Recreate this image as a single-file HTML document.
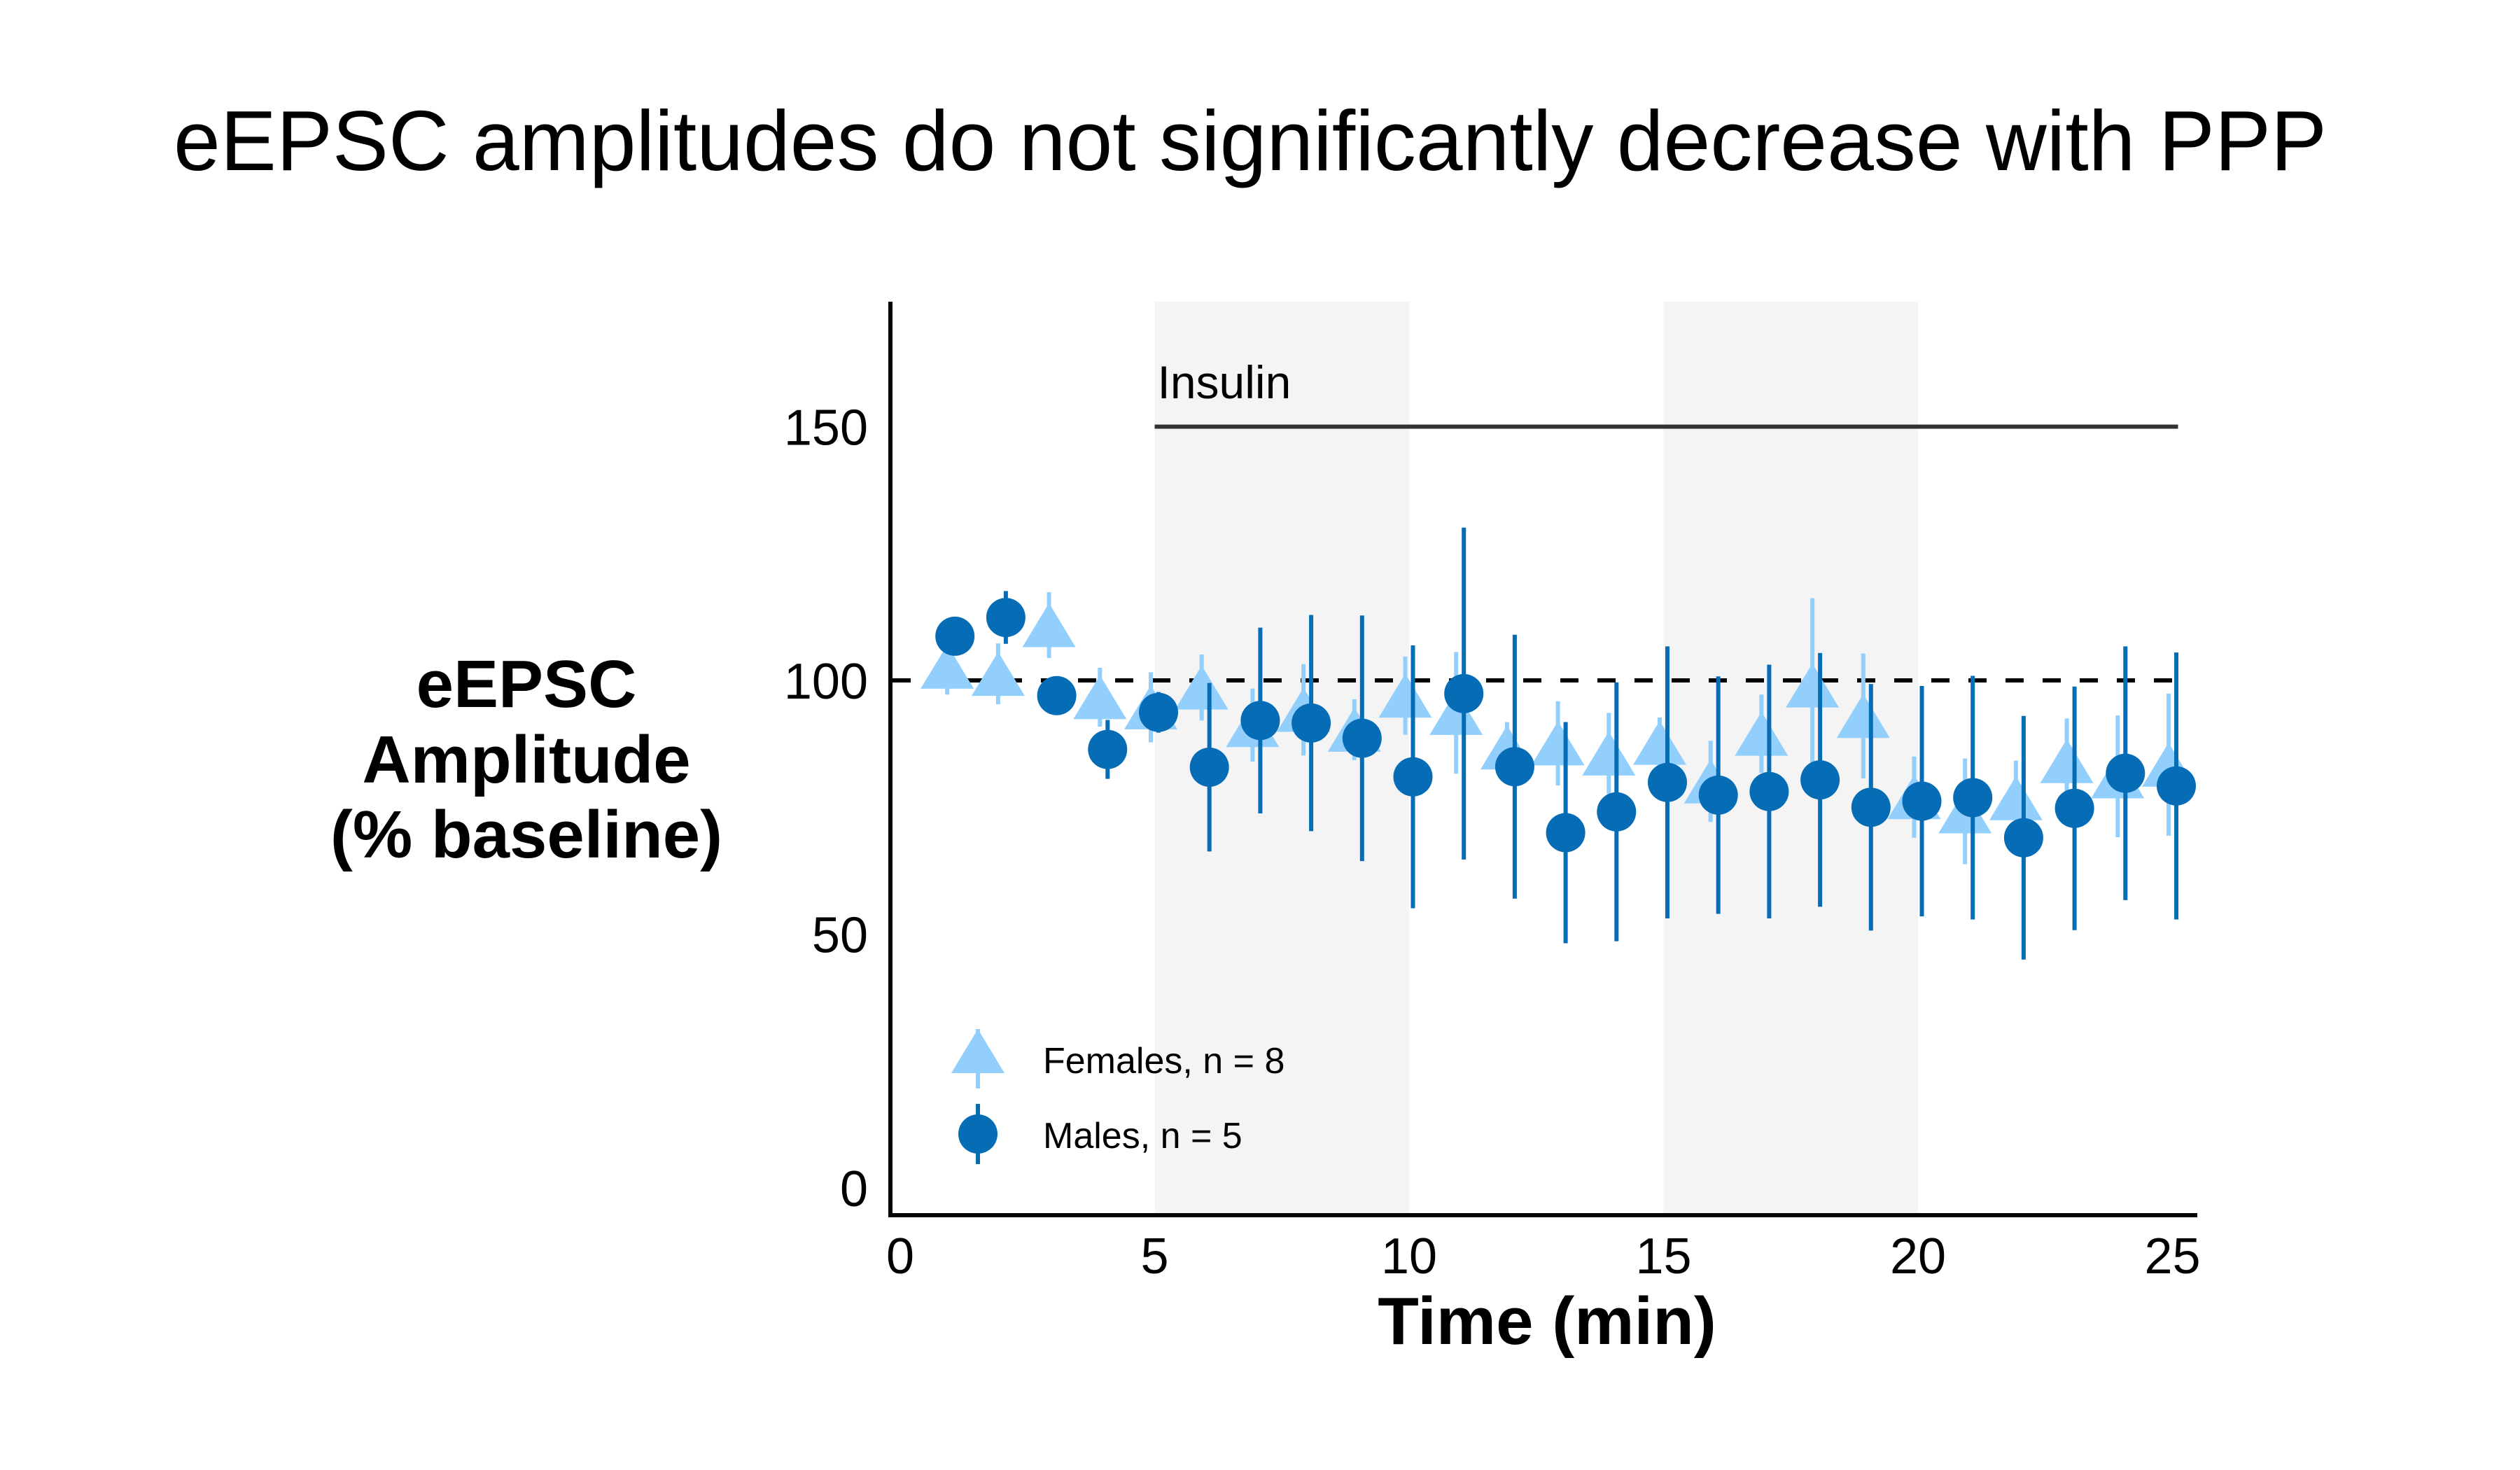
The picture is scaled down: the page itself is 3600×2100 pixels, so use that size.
<!DOCTYPE html>
<html><head><meta charset="utf-8"><style>html,body{margin:0;padding:0;background:#fff}svg{display:block}</style></head>
<body>
<svg id="chart" width="3600" height="2100" viewBox="0 0 3600 2100" xmlns="http://www.w3.org/2000/svg" font-family="'Liberation Sans', sans-serif">
<rect x="0" y="0" width="3600" height="2100" fill="#fff"/>
<g id="shade"></g>
<g id="refs"></g>
<g id="fem"></g>
<g id="mal"></g>
<g id="axes"></g>
<text x="1786" y="243" font-size="122" text-anchor="middle" textLength="3076" lengthAdjust="spacingAndGlyphs">eEPSC amplitudes do not significantly decrease with PPP</text>
<g font-weight="bold" font-size="96" text-anchor="middle">
<text x="752" y="1010">eEPSC</text>
<text x="752" y="1118">Amplitude</text>
<text x="752" y="1225">(% baseline)</text>
</g>
<text x="2210" y="1920" font-size="96" font-weight="bold" text-anchor="middle">Time (min)</text>
<g>
<g>
<line x1="1397" y1="1470" x2="1397" y2="1555" stroke="#93CFFD" stroke-width="6"/>
<polygon points="1397,1470 1359,1533 1435,1533" fill="#93CFFD"/>
<text x="1490" y="1533" font-size="52">Females, n = 8</text>
</g>
<g>
<line x1="1397" y1="1577" x2="1397" y2="1663" stroke="#056CB5" stroke-width="6"/>
<circle cx="1397" cy="1620" r="28" fill="#056CB5"/>
<text x="1490" y="1640" font-size="52">Males, n = 5</text>
</g>
</g>
</svg>
<script>
const times = [1,2,3,4,5,6,7,8,9,10,11,12,13,14,15,16,17,18,19,20,21,22,23,24,25];
const femMean = [102.7,101.3,110.9,96.7,94.7,98.6,91.2,94.2,90.3,97.0,93.6,86.8,87.6,85.6,87.7,80.1,89.5,99.0,93.0,77.0,74.2,76.8,84.1,81.1,83.4];
const femErr = [5.5,6,6.5,5.8,6.9,6.5,7.2,9,6,7.7,12,5,8.3,8,5,8,7.7,17.2,12.3,8,10.4,7.4,8.4,12,14];
const malMean = [108.7,112.4,97.0,86.4,93.7,82.9,92.1,91.6,88.6,81.0,97.4,83.0,70.0,74.1,79.9,77.4,78.1,80.4,75.0,76.2,76.9,69.0,74.8,81.7,79.2];
const malErr = [2,5.2,1,5.8,4,16.6,18.3,21.3,24.2,25.9,32.7,26,21.8,25.5,26.8,23.4,25,25,24.3,22.7,24,24,24,25,26.3];
const xTicks = [0,5,10,15,20,25];
const yTicks = [0,50,100,150];
const shadeRanges = [[5,10],[15,20]];
const insulinRange = [5,25];
const insulinLevel = 150;
const baselineLevel = 100;

const NS = 'http://www.w3.org/2000/svg';
const X = v => 1286 + 72.7 * v;
const Y = v => 1697 - 7.25 * v;
function mk(tag, attrs, parent) {
  const el = document.createElementNS(NS, tag);
  for (const k in attrs) el.setAttribute(k, attrs[k]);
  parent.appendChild(el);
  return el;
}
const shade = document.getElementById('shade');
shadeRanges.forEach((r, i) => {
  const el = mk('rect', {x: X(r[0]), y: 431, width: X(r[1]) - X(r[0]), height: 1305, fill: '#F4F4F4'}, shade);
  
  
});
const refs = document.getElementById('refs');
const bl = mk('line', {x1: 1273, x2: X(25) + 8, y1: Y(baselineLevel), y2: Y(baselineLevel), stroke: '#000', 'stroke-width': 6, 'stroke-dasharray': '26 27', 'stroke-dashoffset': '-2'}, refs);


const il = mk('line', {x1: X(insulinRange[0]), x2: X(insulinRange[1]) + 8, y1: Y(insulinLevel), y2: Y(insulinLevel), stroke: '#333', 'stroke-width': 6}, refs);


const it = mk('text', {x: X(insulinRange[0]) + 4, y: 569, 'font-size': 66}, refs);
it.textContent = 'Insulin';



const fem = document.getElementById('fem');
times.forEach((t, i) => {
  const cx = X(t) - 5.5, cy = Y(femMean[i]);
  const g = mk('g', {}, fem);
  
  
  mk('line', {x1: cx, x2: cx, y1: Y(femMean[i] + femErr[i]), y2: Y(femMean[i] - femErr[i]), stroke: '#93CFFD', 'stroke-width': 6}, g);
  mk('polygon', {points: `${cx},${cy - 31.5} ${cx - 38},${cy + 31.5} ${cx + 38},${cy + 31.5}`, fill: '#93CFFD'}, g);
});
const mal = document.getElementById('mal');
times.forEach((t, i) => {
  const cx = X(t) + 5.5, cy = Y(malMean[i]);
  const g = mk('g', {}, mal);
  
  
  mk('line', {x1: cx, x2: cx, y1: Y(malMean[i] + malErr[i]), y2: Y(malMean[i] - malErr[i]), stroke: '#056CB5', 'stroke-width': 6}, g);
  mk('circle', {cx: cx, cy: cy, r: 28, fill: '#056CB5'}, g);
});

const axes = document.getElementById('axes');
const ys = mk('line', {x1: 1272, x2: 1272, y1: 431, y2: 1739, stroke: '#000', 'stroke-width': 6}, axes);


const xs = mk('line', {x1: 1269, x2: 3139, y1: 1736, y2: 1736, stroke: '#000', 'stroke-width': 6}, axes);


yTicks.forEach(v => {
  const el = mk('text', {x: 1240, y: Y(v) + 26, 'font-size': 72, 'text-anchor': 'end'}, axes);
  el.textContent = v;
  
  
});
xTicks.forEach(v => {
  const el = mk('text', {x: X(v), y: 1819, 'font-size': 72, 'text-anchor': 'middle'}, axes);
  el.textContent = v;
  
  
});
</script>
</body></html>
